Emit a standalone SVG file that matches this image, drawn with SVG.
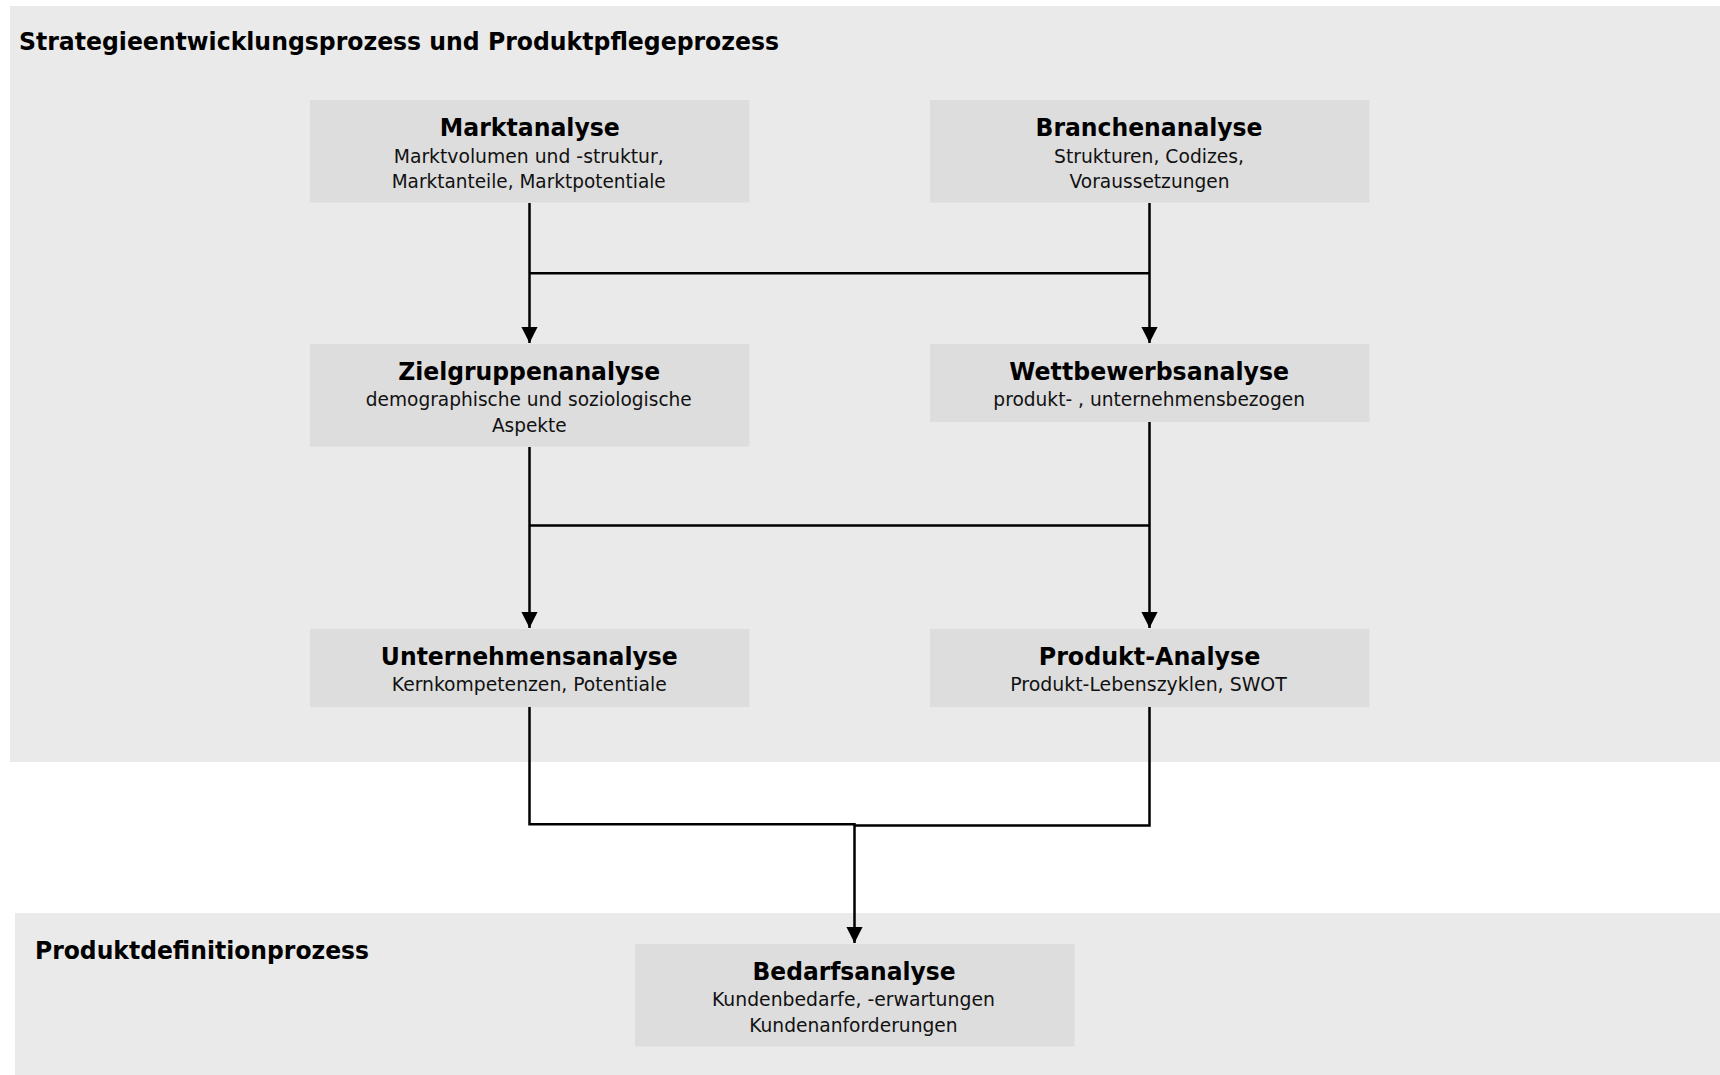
<svg xmlns="http://www.w3.org/2000/svg" width="1720" height="1075" viewBox="0 0 1720 1075">
  <style>
    .panel { fill: #EAEAEA; }
    .box { fill: #DDDDDD; }
    .ttl { font-family: "DejaVu Sans", Verdana, sans-serif; font-weight: bold; font-size: 25.5px; fill: #000; text-anchor: middle; }
    .sub { font-family: "DejaVu Sans", Verdana, sans-serif; font-size: 20px; fill: #111; text-anchor: middle; }
    .head { font-family: "DejaVu Sans", Verdana, sans-serif; font-weight: bold; fill: #000; }
    .conn { fill: none; stroke: #000; stroke-width: 2.5; }
  </style>
  <defs>
    <marker id="arr" markerUnits="userSpaceOnUse" markerWidth="17" markerHeight="17" refX="16.5" refY="8.3" orient="auto" viewBox="0 0 17 17">
      <path d="M0,0 L16.6,8.3 L0,16.6 z" fill="#000"/>
    </marker>
  </defs>

  <rect width="1720" height="1075" fill="#FFFFFF"/>

  <g id="panel-strategie">
    <rect class="panel" x="10" y="6" width="1710" height="756"/>
    <text class="head" x="19" y="50" font-size="24" textLength="760" lengthAdjust="spacingAndGlyphs">Strategieentwicklungsprozess und Produktpflegeprozess</text>
  </g>
  <g id="panel-produktdefinition">
    <rect class="panel" x="15" y="913" width="1705" height="162"/>
    <text class="head" x="35" y="958.5" font-size="24.5" textLength="334" lengthAdjust="spacingAndGlyphs">Produktdefinitionprozess</text>
  </g>

  <g id="connectors">
    <path class="conn" d="M529.5,203 V343" marker-end="url(#arr)"/>
    <path class="conn" d="M1149.5,203 V343" marker-end="url(#arr)"/>
    <path class="conn" d="M529.5,273.3 H1149.5"/>
    <path class="conn" d="M529.5,447 V628" marker-end="url(#arr)"/>
    <path class="conn" d="M1149.5,422 V628" marker-end="url(#arr)"/>
    <path class="conn" d="M529.5,525.4 H1149.5"/>
    <path class="conn" d="M529.5,707 V824.3 H854.5 V943" marker-end="url(#arr)"/>
    <path class="conn" d="M1149.5,707 V825.5 H854.5"/>
  </g>

  <g id="node-marktanalyse">
    <rect class="box" x="310" y="100" width="439.5" height="102.5"/>
    <text class="ttl" x="529.8" y="136" textLength="180" lengthAdjust="spacingAndGlyphs">Marktanalyse</text>
    <text class="sub" x="528.7" y="162.8" textLength="270" lengthAdjust="spacingAndGlyphs">Marktvolumen und -struktur,</text>
    <text class="sub" x="528.7" y="188" textLength="274" lengthAdjust="spacingAndGlyphs">Marktanteile, Marktpotentiale</text>
  </g>

  <g id="node-branchenanalyse">
    <rect class="box" x="930" y="100" width="439.5" height="102.5"/>
    <text class="ttl" x="1149" y="136" textLength="227" lengthAdjust="spacingAndGlyphs">Branchenanalyse</text>
    <text class="sub" x="1149" y="162.8" textLength="190" lengthAdjust="spacingAndGlyphs">Strukturen, Codizes,</text>
    <text class="sub" x="1149.5" y="188" textLength="160" lengthAdjust="spacingAndGlyphs">Voraussetzungen</text>
  </g>

  <g id="node-zielgruppenanalyse">
    <rect class="box" x="310" y="344" width="439.5" height="102.7"/>
    <text class="ttl" x="529.2" y="380" textLength="262" lengthAdjust="spacingAndGlyphs">Zielgruppenanalyse</text>
    <text class="sub" x="528.8" y="406.3" textLength="326" lengthAdjust="spacingAndGlyphs">demographische und soziologische</text>
    <text class="sub" x="529.3" y="431.5" textLength="74.7" lengthAdjust="spacingAndGlyphs">Aspekte</text>
  </g>

  <g id="node-wettbewerbsanalyse">
    <rect class="box" x="930" y="344" width="439.5" height="78"/>
    <text class="ttl" x="1149.2" y="380" textLength="279.7" lengthAdjust="spacingAndGlyphs">Wettbewerbsanalyse</text>
    <text class="sub" x="1149.2" y="406.3" textLength="311.7" lengthAdjust="spacingAndGlyphs">produkt- , unternehmensbezogen</text>
  </g>

  <g id="node-unternehmensanalyse">
    <rect class="box" x="310" y="629" width="439.5" height="78"/>
    <text class="ttl" x="529.3" y="665" textLength="297" lengthAdjust="spacingAndGlyphs">Unternehmensanalyse</text>
    <text class="sub" x="529.3" y="691.3" textLength="275" lengthAdjust="spacingAndGlyphs">Kernkompetenzen, Potentiale</text>
  </g>

  <g id="node-produktanalyse">
    <rect class="box" x="930" y="629" width="439.5" height="78"/>
    <text class="ttl" x="1149.5" y="665" textLength="221.5" lengthAdjust="spacingAndGlyphs">Produkt-Analyse</text>
    <text class="sub" x="1148.5" y="691.3" textLength="276.5" lengthAdjust="spacingAndGlyphs">Produkt-Lebenszyklen, SWOT</text>
  </g>

  <g id="node-bedarfsanalyse">
    <rect class="box" x="635" y="944" width="439.5" height="102.5"/>
    <text class="ttl" x="854" y="980" textLength="203" lengthAdjust="spacingAndGlyphs">Bedarfsanalyse</text>
    <text class="sub" x="853.4" y="1006.3" textLength="283" lengthAdjust="spacingAndGlyphs">Kundenbedarfe, -erwartungen</text>
    <text class="sub" x="853.4" y="1031.5" textLength="208.4" lengthAdjust="spacingAndGlyphs">Kundenanforderungen</text>
  </g>
</svg>
